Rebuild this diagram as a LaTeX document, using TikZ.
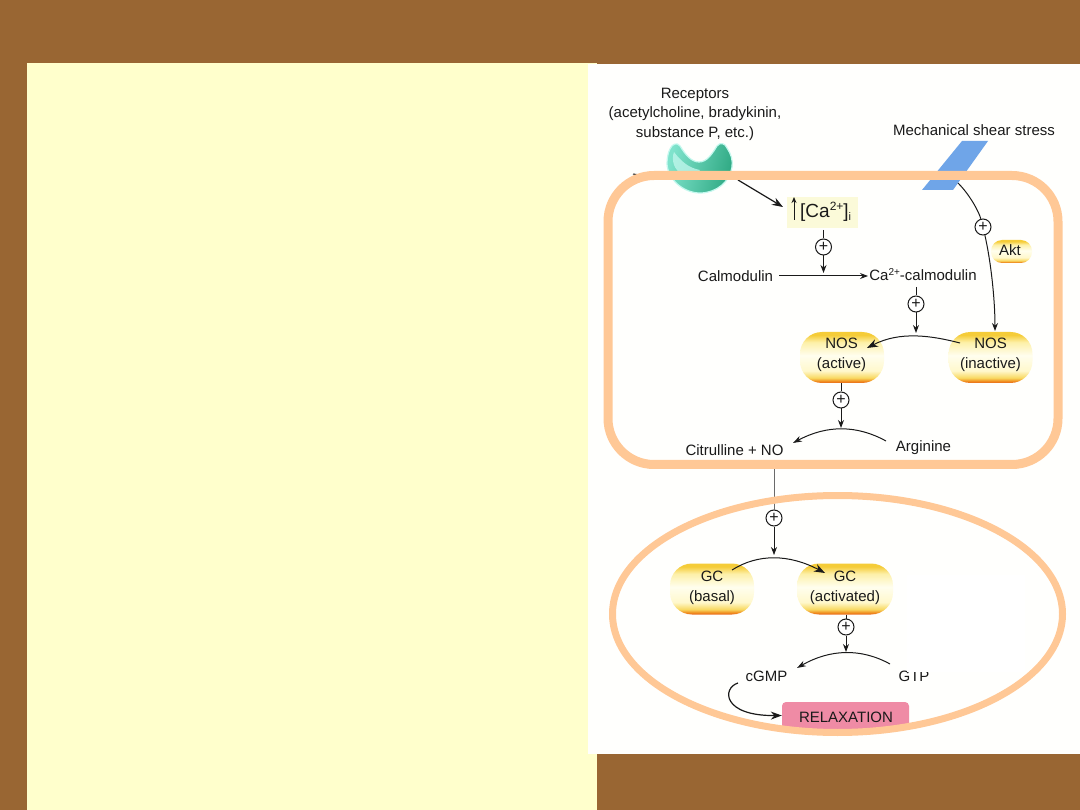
\documentclass[tikz,border=0pt]{standalone}
\usepackage{fontspec}
\setmainfont{Liberation Sans}
\usetikzlibrary{arrows.meta,shapes.geometric}
\definecolor{brownbg}{HTML}{996633}
\definecolor{panel}{HTML}{FFFFCC}
\definecolor{sheet}{HTML}{FFFFFD}
\definecolor{hoop}{HTML}{FFC896}
\definecolor{ink}{HTML}{1A1A1A}
\definecolor{cabox}{HTML}{FBFAD9}
\definecolor{plate}{HTML}{6FA5E8}
\definecolor{pink}{HTML}{EF8BA5}
\definecolor{recL}{HTML}{7FE3CC}
\definecolor{recR}{HTML}{2FA983}
\definecolor{recH}{HTML}{C4F8EE}
\definecolor{pA}{HTML}{E8641A}
\definecolor{pB}{HTML}{F09020}
\definecolor{pC}{HTML}{F8D860}
\definecolor{pD}{HTML}{FFF8CC}
\definecolor{pE}{HTML}{FFFEEE}
\definecolor{pF}{HTML}{FDF0A8}
\definecolor{pG}{HTML}{F5CC38}
\pgfdeclareverticalshading{pillshade}{100bp}{
 color(0bp)=(pA);
 color(25bp)=(pA);
 color(27bp)=(pB);
 color(30bp)=(pC);
 color(37bp)=(pD);
 color(52bp)=(pE);
 color(65bp)=(pF);
 color(72bp)=(pG);
 color(75bp)=(pG);
 color(100bp)=(pG)}
\newcommand{\supfig}[1]{\raisebox{5pt}{\fontsize{10}{10}\selectfont #1}}
\tikzset{
 lbl/.style={font=\fontsize{15}{20}\selectfont,text=ink,inner sep=0pt,align=center},
 pill/.style={shade,shading=pillshade,rounded corners=22pt,minimum width=84pt,minimum height=51pt,inner sep=0pt},
 plus/.style={circle,draw=ink,fill=white,line width=1pt,minimum size=16pt,inner sep=0pt,font=\fontsize{16}{16}\selectfont,text=ink},
 link/.style={draw=ink,line width=1pt},
 arrow/.style={link,-{Stealth[length=8pt,width=6pt]}},
 heavy/.style={draw=ink,line width=1.2pt,-{Stealth[length=11pt,width=8pt]}},
 hoopline/.style={draw=hoop}
}
\begin{document}
\begin{tikzpicture}[x=1pt,y=-1pt]
\useasboundingbox (0,0) rectangle (1080,810);
% backgrounds
\fill[brownbg] (0,0) rectangle (1080,810);
\fill[panel] (27,63) rectangle (597,810);
\fill[sheet] (588,64) rectangle (1080,754);
% receptor
\path[draw=recH,line width=1.2pt,left color=recL,right color=recR,shading angle=75]
  (670,149) .. controls (672,144) and (677,142) .. (680,146)
  .. controls (685,154) and (691,162) .. (699,162)
  .. controls (707,162) and (712,154) .. (717,146)
  .. controls (720,142) and (725,143) .. (727,148)
  .. controls (731,154) and (733,160) .. (732,167)
  .. controls (730,182) and (716,193) .. (700,193)
  .. controls (684,193) and (668,180) .. (667,164)
  .. controls (667,158) and (668,153) .. (670,149) -- cycle;
\fill[recH,opacity=.75] (674,152) .. controls (680,160) and (688,168) .. (700,170)
  .. controls (698,176) and (690,178) .. (682,174)
  .. controls (674,170) and (671,160) .. (674,152) -- cycle;
% shear plate
\fill[plate] (962,141) -- (988,141) -- (953,190) -- (922,190) -- cycle;
% ca box
\node[fill=cabox,minimum width=71pt,minimum height=31pt,inner sep=0pt] (cabg) at (822.5,212.5) {};
% labels
\node[lbl,font=\fontsize{15}{19.5}\selectfont] (receptors) at (695,114) {Receptors\\(acetylcholine, bradykinin,\\substance P, etc.)};
\node[lbl] (shear) at (974,130) {Mechanical shear stress};
\node[lbl,font=\fontsize{19}{19}\selectfont,anchor=west] (ca) at (800,212) {[Ca\raisebox{7pt}{\fontsize{12}{12}\selectfont 2+}]\raisebox{-3pt}{\fontsize{11}{11}\selectfont i}};
\node[lbl] (calm) at (735.5,276) {Calmodulin};
\node[lbl] (cacalm) at (923,275) {Ca\supfig{2+}-calmodulin};
\node[lbl] (citr) at (734.5,450) {Citrulline + NO};
\node[lbl] (arg) at (923.5,448) {Arginine};
\node[lbl] (cgmp) at (766.5,676) {cGMP};
\node[lbl] (gtp) at (914,676) {GTP};
% enzyme pills
\node[pill] (nosa) at (842,357.5) {};
\node[pill] (nosi) at (990.5,357.5) {};
\node[pill] (gcb) at (712,589) {};
\node[pill,minimum width=96pt] (gca) at (845,589) {};
\node[pill,minimum width=41pt,minimum height=23pt,rounded corners=11pt] (akt) at (1011.5,251.5) {};
\node[lbl] (nosat) at (841.5,355) {NOS\\(active)};
\node[lbl] (nosit) at (990.5,354.5) {NOS\\(inactive)};
\node[lbl] (gcbt) at (712,588) {GC\\(basal)};
\node[lbl] (gcat) at (845,588) {GC\\(activated)};
\node[lbl] (aktt) at (1010,250) {Akt};
\node[fill=pink,rounded corners=4pt,minimum width=127pt,minimum height=27pt,inner sep=0pt] (relax) at (845.5,715.5) {};
\node[lbl] (relaxt) at (846,717) {RELAXATION};
% plus signs
\node[plus] (p1) at (823.5,247) {+};
\node[plus] (p2) at (916,304) {+};
\node[plus] (p3) at (983,227) {+};
\node[plus] (p4) at (841,400) {+};
\node[plus] (p5) at (774,518) {+};
\node[plus] (p6) at (846,627) {+};
% free ends
\coordinate (recout) at (738,180);
\coordinate (catip) at (783,207);
\coordinate (caup) at (794,197);
\coordinate (cadown) at (794,220);
\coordinate (catop) at (823.5,230);
\coordinate (calmtip) at (823.5,273);
\coordinate (calmstart) at (779,276);
\coordinate (calmend) at (868,276);
\coordinate (cacalmout) at (916,287);
\coordinate (apex1) at (916,333);
\coordinate (apex2) at (841,428);
\coordinate (apex3) at (774,555);
\coordinate (apex4) at (846,652);
\coordinate (plateout) at (958,183);
\coordinate (nositop) at (995,331);
\coordinate (mema) at (633,174);
\coordinate (memb) at (640,175);
\coordinate (nostart) at (774,469);
% connectors
\draw[link] (mema) -- (memb);
\draw[heavy] (recout) -- (catip);
\draw[link,-{Stealth[length=6pt,width=5pt]}] (cadown) -- (caup);
\draw[link] (catop) -- (p1);
\draw[arrow] (p1) -- (calmtip);
\draw[arrow] (calmstart) -- (calmend);
\draw[link] (cacalmout) -- (p2);
\draw[arrow] (p2) -- (apex1);
\draw[link] (plateout) .. controls (970,195) and (979,212) .. (p3);
\draw[arrow] (p3) .. controls (991,262) and (995,300) .. (nositop);
\draw[heavy,line width=1pt] (960,343) .. controls (931,335.5) and (900,331) .. (867,348);
\draw[link] (nosa.south -| p4) -- (p4);
\draw[arrow] (p4) -- (apex2);
\draw[arrow,-{Stealth[length=9pt,width=6pt]}] (886,441) .. controls (857,425) and (827,424.7) .. (793,443);
\draw[draw=ink!65,line width=0.6pt] (nostart) -- (p5);
\draw[arrow,line width=0.7pt] (p5) -- (apex3);
\draw[heavy,line width=1pt] (732,570) .. controls (758,553.5) and (789,554) .. (825,573);
\draw[link] (gca.south -| p6) -- (p6);
\draw[arrow] (p6) -- (apex4);
\draw[arrow,-{Stealth[length=9pt,width=6pt]}] (890,664) .. controls (861,648) and (830,649) .. (797,668);
\draw[heavy] (738,683) .. controls (722,688) and (722,716) .. (relax.west);
% white patch that hides part of the print
\fill[white] (907,575) rectangle (1025,672);
% orange hoops
\draw[hoopline,line width=9pt,rounded corners=46pt] (608,175.5) rectangle (1058,464.5);
\draw[hoopline,line width=7pt] (837.5,614) ellipse [x radius=225,y radius=118.5];
\end{tikzpicture}
\end{document}
